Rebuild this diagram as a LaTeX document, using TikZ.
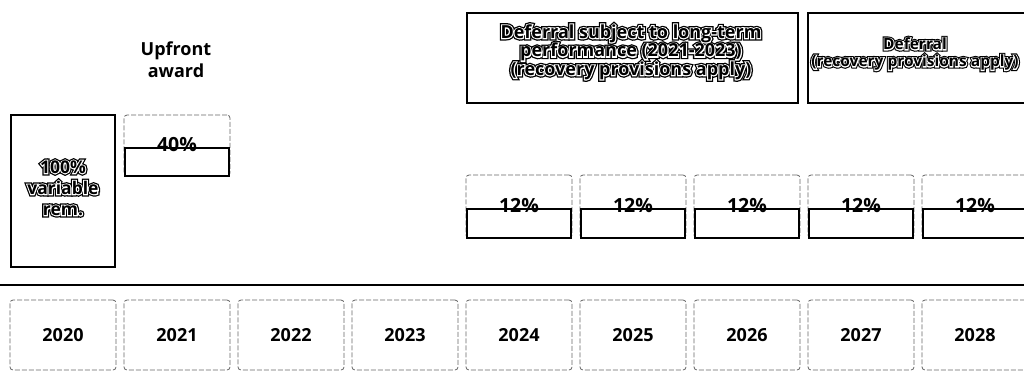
\documentclass[tikz,border=0pt]{standalone}
\usepackage{fontspec}
\setmainfont{Open Sans}
\newfontfamily\haloouter{Open Sans}[BoldFeatures={FakeBold=26}]
\newfontfamily\haloinner{Open Sans}[BoldFeatures={FakeBold=12}]
\usetikzlibrary{positioning}

% outlined label: fat black, white ring, black letters (name, position, size, text)
\newcommand{\halonode}[4]{%
  \node[remark, font=\haloouter#3\bfseries, text=black] (#1back) at (#2) {#4};
  \node[remark, font=\haloinner#3\bfseries, text=white] (#1ring) at (#2) {#4};
  \node[remark, font=#3\bfseries] (#1) at (#2) {#4};}

\begin{document}
\begin{tikzpicture}[
  x=1pt, y=-1pt,
  yearbox/.style={draw=black!60, line width=0.8pt, dash pattern=on 5pt off 2pt, rounded corners=3pt, minimum width=106pt, minimum height=70pt, font=\fontsize{18}{22}\selectfont\bfseries},
  barframe/.style={draw=black!60, line width=0.8pt, dash pattern=on 5pt off 2pt, rounded corners=3pt, minimum width=106pt},
  barbox/.style={draw, line width=1.8pt, minimum width=104pt},
  pct/.style={font=\fontsize{19.5}{20}\selectfont\bfseries, inner sep=0pt},
  bigbox/.style={draw, line width=1.8pt},
  remark/.style={align=center}
]
\useasboundingbox (0,0) rectangle (1024,376);

% Time line
\coordinate (tl) at (0,285);
\coordinate (tr) at (1024,285);
\draw[line width=1.2pt] (tl) -- (tr);

\foreach \yr [count=\i from 0] in {2020,2021,2022,2023,2024,2025,2026,2027,2028}
  \node[yearbox] (y\yr) at (63+114*\i,335) {\yr};

% Variable remuneration
\node[bigbox, minimum width=104pt, minimum height=152pt] (rem) at (63,191) {};
\halonode{remtext}{63,188}{\fontsize{17.5}{21}\selectfont}{100\%\\variable\\rem.}

% Upfront award
\node[align=center, font=\fontsize{18}{22}\selectfont\bfseries] (upfront) at (176,60) {Upfront\\award};
\node[barframe, minimum height=61pt] (frame2021) at (177,145.5) {};
\node[barbox, minimum height=28pt] (bar2021) at (177,162) {};
\node[pct] (pct2021) at ([yshift=3pt]bar2021.north) {40\%};

% Deferred parts
\foreach \yr/\cx in {2024/519,2025/633,2026/747,2027/861,2028/975} {
  \node[barframe, minimum height=63pt] (frame\yr) at (\cx,206.5) {};
  \node[barbox, minimum height=29pt] (bar\yr) at (\cx,223.5) {};
  \node[pct] (pct\yr) at ([yshift=3pt]bar\yr.north) {12\%};
}

% Deferral boxes
\node[bigbox, minimum width=331pt, minimum height=90pt] (defa) at (632.5,58) {};
\halonode{defatext}{631,52}{\fontsize{18}{18.5}\selectfont}{Deferral subject to long-term\\performance (2021-2023)\\(recovery provisions apply)}

\node[bigbox, minimum width=220pt, minimum height=90pt] (defb) at (918,58) {};
\halonode{defbtext}{915,54}{\fontsize{15.5}{17}\selectfont}{Deferral\\(recovery provisions apply)}
\end{tikzpicture}
\end{document}
